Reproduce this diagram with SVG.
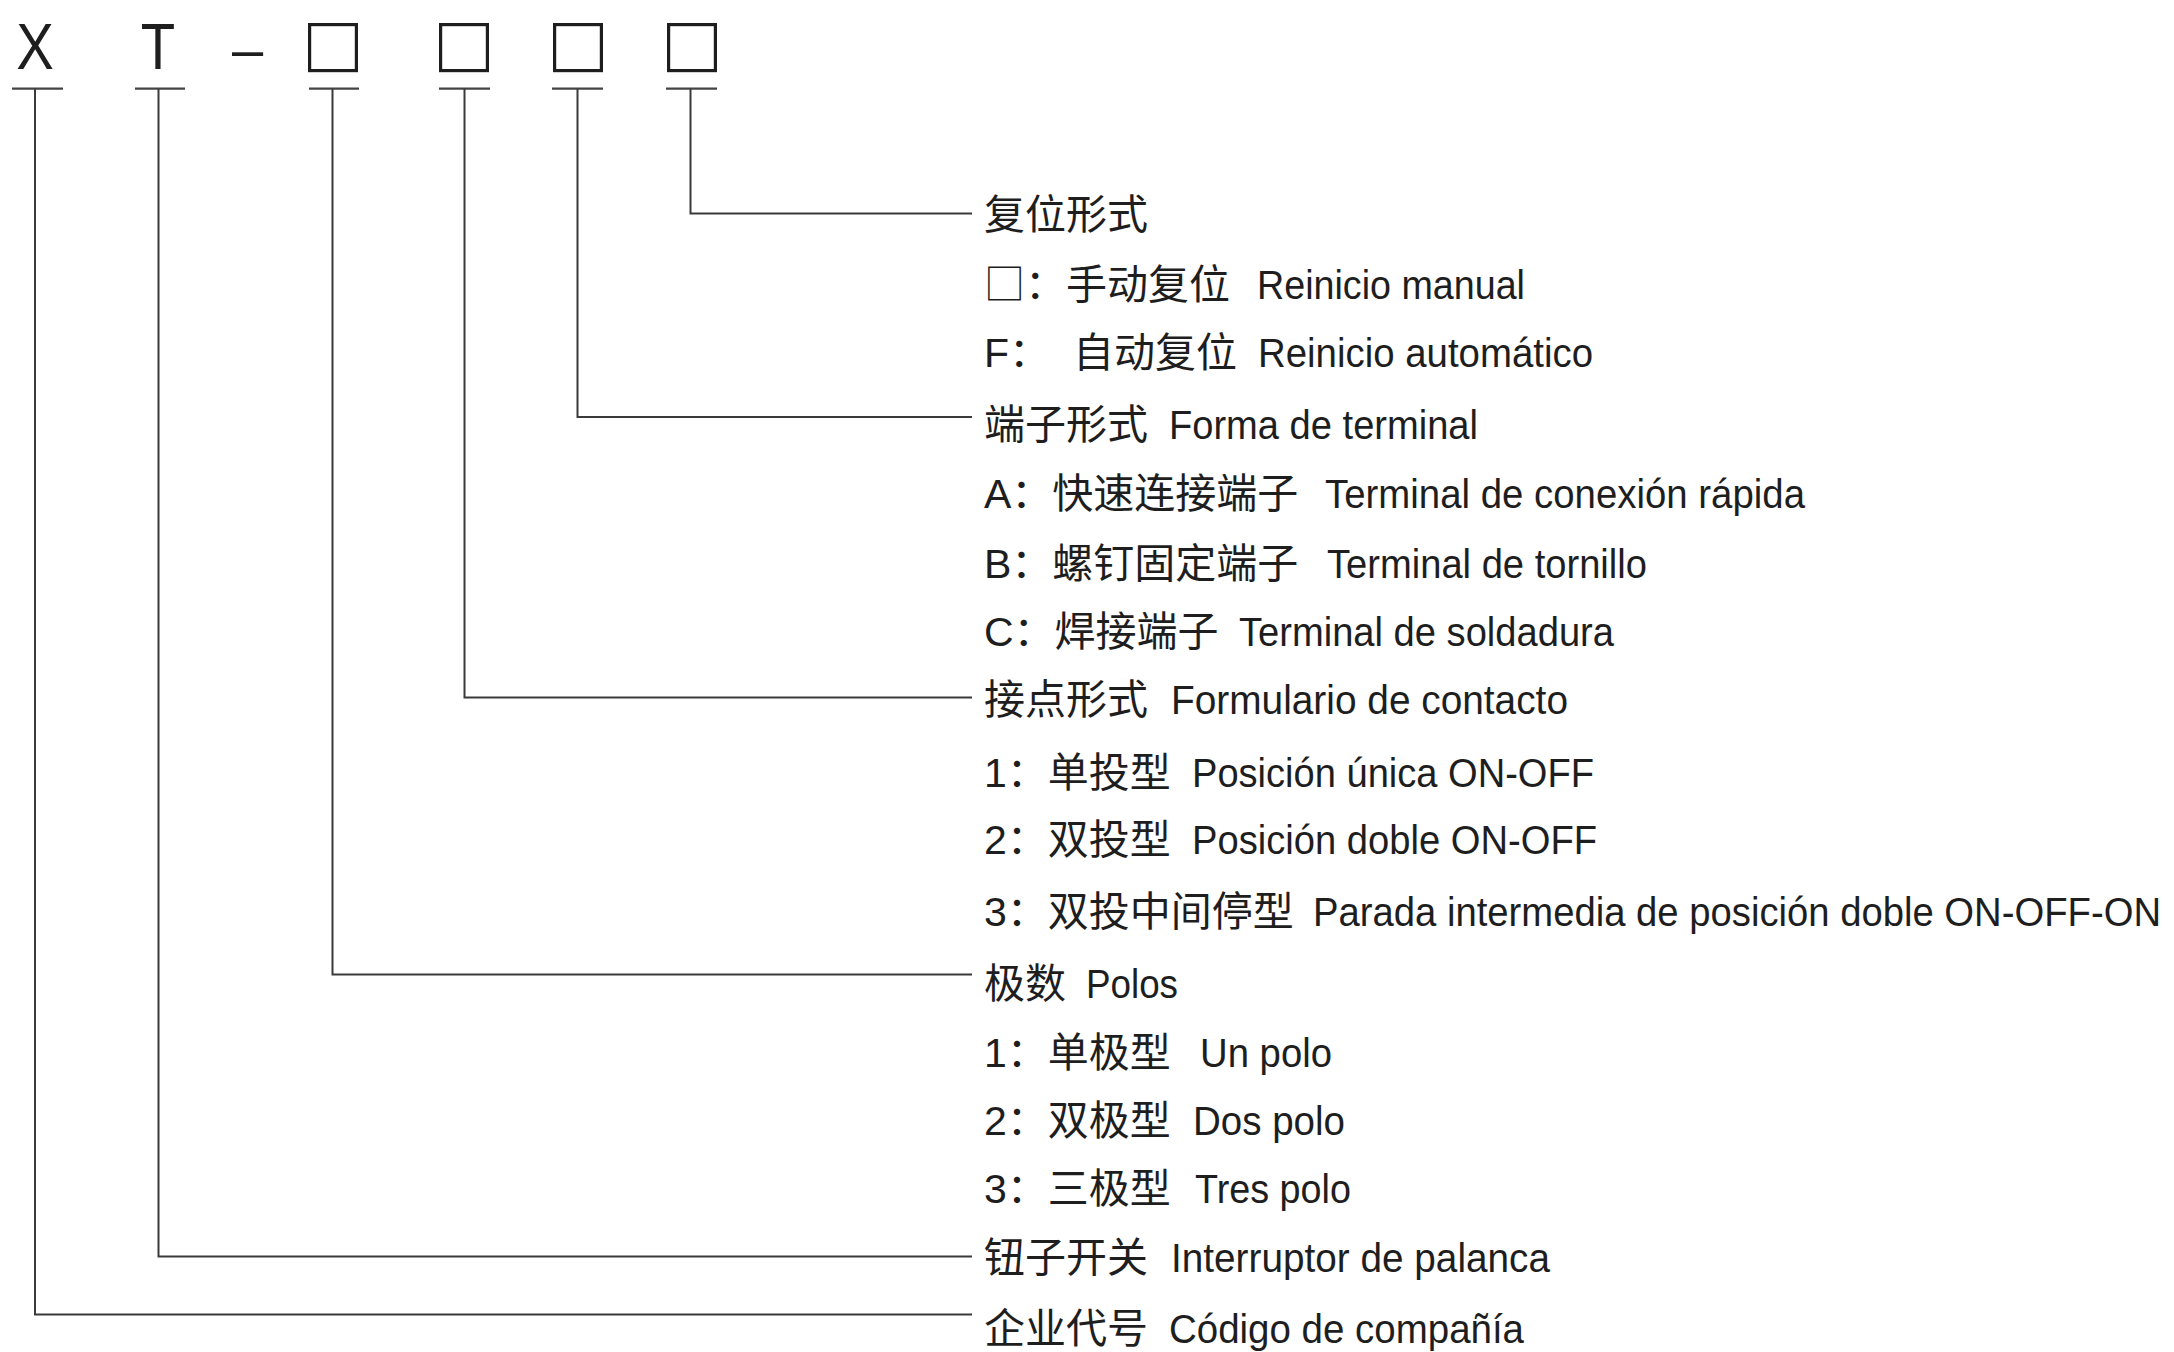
<svg xmlns="http://www.w3.org/2000/svg" width="2174" height="1352" viewBox="0 0 2174 1352">
<style>
  .t { font-family: "Liberation Sans", "Noto Sans CJK SC", sans-serif; font-size: 41px; fill: #1e1e1e; }
  .cjk { font-family: "Noto Sans CJK SC", sans-serif; }
  .hd { font-family: "Liberation Sans", "Noto Sans CJK SC", sans-serif; font-size: 64px; fill: #1e1e1e; }
  .box { fill: none; stroke: #1e1e1e; stroke-width: 3.2; }
  .ul { stroke: #444; stroke-width: 2.2; fill: none; }
  .conn { stroke: #3a3a3a; stroke-width: 2; fill: none; }
</style>
<rect width="2174" height="1352" fill="#ffffff"/>

<g id="code">
  <g id="code-X"><text class="hd" transform="translate(35,69) scale(0.88,1)" text-anchor="middle">X</text><line class="ul" x1="12" y1="88.7" x2="63" y2="88.7"/></g>
  <g id="code-T"><text class="hd" transform="translate(158,69) scale(0.88,1)" text-anchor="middle">T</text><line class="ul" x1="135" y1="88.7" x2="185" y2="88.7"/></g>
  <g id="code-dash"><text class="hd" x="232" y="68" style="font-size:56px">–</text></g>
  <g id="code-box1"><rect class="box" x="309.6" y="24.6" width="46.8" height="46" /><line class="ul" x1="309" y1="88.7" x2="359" y2="88.7"/></g>
  <g id="code-box2"><rect class="box" x="440.6" y="24.6" width="46.8" height="46" /><line class="ul" x1="439" y1="88.7" x2="490" y2="88.7"/></g>
  <g id="code-box3"><rect class="box" x="554.6" y="24.6" width="46.8" height="46" /><line class="ul" x1="552" y1="88.7" x2="603" y2="88.7"/></g>
  <g id="code-box4"><rect class="box" x="668.6" y="24.6" width="46.8" height="46" /><line class="ul" x1="666" y1="88.7" x2="717" y2="88.7"/></g>
</g>

<g id="connectors">
  <polyline class="conn" points="690.5,88.7 690.5,213.5 972,213.5"/>
  <polyline class="conn" points="577.5,88.7 577.5,417 972,417"/>
  <polyline class="conn" points="464.5,88.7 464.5,697.5 972,697.5"/>
  <polyline class="conn" points="332.5,88.7 332.5,974.5 972,974.5"/>
  <polyline class="conn" points="158.5,88.7 158.5,1256.5 972,1256.5"/>
  <polyline class="conn" points="35,88.7 35,1314.5 972,1314.5"/>
</g>

<g id="reset">
  <text class="t" x="984" y="229">复位形式</text>
  <text class="t cjk" x="984" y="299">□：手动复位</text>
  <text class="t" x="1257" y="299" textLength="268" lengthAdjust="spacingAndGlyphs">Reinicio manual</text>
  <text class="t" x="984" y="367">F：</text>
  <text class="t" x="1073" y="367">自动复位</text>
  <text class="t" x="1258" y="367" textLength="335" lengthAdjust="spacingAndGlyphs">Reinicio automático</text>
</g>

<g id="terminal">
  <text class="t" x="984" y="439">端子形式</text>
  <text class="t" x="1169" y="439" textLength="309" lengthAdjust="spacingAndGlyphs">Forma de terminal</text>
  <text class="t" x="984" y="508">A：快速连接端子</text>
  <text class="t" x="1325" y="508" textLength="480" lengthAdjust="spacingAndGlyphs">Terminal de conexión rápida</text>
  <text class="t" x="984" y="578">B：螺钉固定端子</text>
  <text class="t" x="1327" y="578" textLength="320" lengthAdjust="spacingAndGlyphs">Terminal de tornillo</text>
  <text class="t" x="984" y="646">C：焊接端子</text>
  <text class="t" x="1239" y="646" textLength="375" lengthAdjust="spacingAndGlyphs">Terminal de soldadura</text>
</g>

<g id="contact">
  <text class="t" x="984" y="714">接点形式</text>
  <text class="t" x="1171" y="714" textLength="397" lengthAdjust="spacingAndGlyphs">Formulario de contacto</text>
  <text class="t" x="984" y="787">1：单投型</text>
  <text class="t" x="1192" y="787" textLength="402" lengthAdjust="spacingAndGlyphs">Posición única ON-OFF</text>
  <text class="t" x="984" y="854">2：双投型</text>
  <text class="t" x="1192" y="854" textLength="405" lengthAdjust="spacingAndGlyphs">Posición doble ON-OFF</text>
  <text class="t" x="984" y="926">3：双投中间停型</text>
  <text class="t" x="1313" y="926" textLength="848" lengthAdjust="spacingAndGlyphs">Parada intermedia de posición doble ON-OFF-ON</text>
</g>

<g id="poles">
  <text class="t" x="984" y="998">极数</text>
  <text class="t" x="1086" y="998" textLength="92" lengthAdjust="spacingAndGlyphs">Polos</text>
  <text class="t" x="984" y="1067">1：单极型</text>
  <text class="t" x="1200" y="1067" textLength="132" lengthAdjust="spacingAndGlyphs">Un polo</text>
  <text class="t" x="984" y="1135">2：双极型</text>
  <text class="t" x="1193" y="1135" textLength="152" lengthAdjust="spacingAndGlyphs">Dos polo</text>
  <text class="t" x="984" y="1203">3：三极型</text>
  <text class="t" x="1195" y="1203" textLength="156" lengthAdjust="spacingAndGlyphs">Tres polo</text>
</g>

<g id="toggle">
  <text class="t" x="984" y="1272">钮子开关</text>
  <text class="t" x="1171" y="1272" textLength="379" lengthAdjust="spacingAndGlyphs">Interruptor de palanca</text>
</g>

<g id="company">
  <text class="t" x="984" y="1343">企业代号</text>
  <text class="t" x="1169" y="1343" textLength="355" lengthAdjust="spacingAndGlyphs">Código de compañía</text>
</g>
</svg>
